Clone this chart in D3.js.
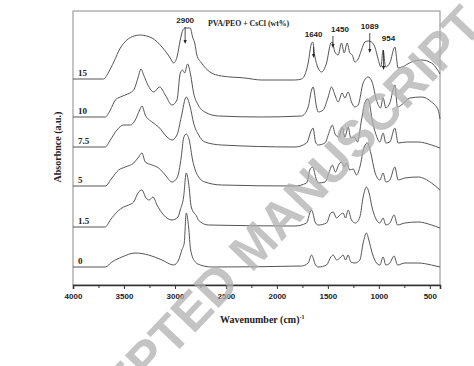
<!DOCTYPE html>
<html>
<head>
<meta charset="utf-8">
<script src="https://cdn.jsdelivr.net/npm/d3@7"></script>
<style>
  body { margin: 0; background: #fff; }
  svg { display: block; }
</style>
</head>
<body>
<div id="chart"></div>
<script>
// series names (CsCl wt%) and vertical stacking offsets (a.u.)
const seriesNames = ["15", "10", "7.5", "5", "1.5", "0"];
const offsets = [206, 168, 138, 99, 58, 18];

// [wavenumber, absorbance above own baseline]
const spec15 = [[4000,0],[3700,0],[3650,7],[3600,17],[3536,31],[3471,39],[3400,43],[3340,44],[3280,43],[3225,41],[3127,32],[3046,21],[3013,16],[2980,22],[2948,39],[2922,49],[2900,51],[2850,51],[2827,42],[2804,35],[2785,24],[2739,16],[2657,7],[2543,3],[2314,1],[2150,-1],[1824,-1],[1758,0],[1693,16],[1665,34],[1648,37],[1630,24],[1600,12],[1562,7],[1513,16],[1471,36],[1458,37],[1431,27],[1399,24],[1366,36],[1340,26],[1311,36],[1284,26],[1261,24],[1235,17],[1203,20],[1170,29],[1137,37],[1105,38],[1072,37],[1039,32],[1007,20],[980,12],[958,29],[934,12],[892,16],[843,32],[811,11],[772,12],[680,17],[581,19],[483,16],[430,10],[400,5]];
const spec10 = [[4000,0],[3683,0],[3634,7],[3585,17],[3536,20],[3487,22],[3405,27],[3363,39],[3333,48],[3307,42],[3265,32],[3209,25],[3150,30],[3095,22],[3029,12],[2980,17],[2948,44],[2925,47],[2905,44],[2876,53],[2846,42],[2817,24],[2772,12],[2706,5],[2575,1],[2150,0],[1758,1],[1693,10],[1660,27],[1645,30],[1611,10],[1595,5],[1546,7],[1497,20],[1464,30],[1431,22],[1399,15],[1360,24],[1333,19],[1301,25],[1268,15],[1235,10],[1203,12],[1154,34],[1105,40],[1066,35],[1023,17],[984,9],[958,19],[931,9],[892,14],[843,32],[817,10],[778,12],[696,19],[581,20],[483,15],[418,7],[400,-2]];
const spec7_5 = [[4000,0],[3683,0],[3634,7],[3569,17],[3503,22],[3438,22],[3389,27],[3346,37],[3324,41],[3291,32],[3225,25],[3160,20],[3078,10],[3029,7],[2980,12],[2938,30],[2889,50],[2850,40],[2817,24],[2768,12],[2706,5],[2543,2],[1824,0],[1709,4],[1660,17],[1645,19],[1621,5],[1595,2],[1529,4],[1480,17],[1457,22],[1425,12],[1392,10],[1360,20],[1333,10],[1301,20],[1275,9],[1242,10],[1209,5],[1170,27],[1137,44],[1112,48],[1092,44],[1066,27],[1033,14],[990,5],[958,14],[931,4],[892,5],[843,19],[811,4],[729,5],[614,5],[483,2],[400,-1]];
const spec5 = [[4000,0],[3683,0],[3618,8],[3552,16],[3487,19],[3405,23],[3356,29],[3324,33],[3291,24],[3225,21],[3160,18],[3095,11],[3029,4],[2980,8],[2938,29],[2915,48],[2889,52],[2860,46],[2827,26],[2768,9],[2706,4],[2543,1],[1824,0],[1709,3],[1677,16],[1650,19],[1611,6],[1595,3],[1529,4],[1480,16],[1457,21],[1425,14],[1395,21],[1366,24],[1340,19],[1317,23],[1284,16],[1252,17],[1219,11],[1186,19],[1144,39],[1111,43],[1079,33],[1039,14],[990,6],[958,13],[931,4],[892,6],[843,19],[811,6],[745,8],[614,9],[483,3],[400,-4]];
const spec1_5 = [[4000,0],[3683,0],[3634,7],[3569,15],[3503,20],[3454,22],[3405,25],[3363,34],[3324,37],[3284,29],[3252,27],[3216,30],[3176,22],[3111,12],[3029,7],[2970,10],[2948,17],[2915,30],[2889,54],[2866,44],[2840,20],[2784,10],[2771,7],[2673,2],[1824,1],[1709,4],[1677,14],[1660,17],[1621,4],[1595,2],[1513,4],[1471,14],[1448,15],[1415,9],[1382,12],[1350,14],[1327,9],[1301,17],[1268,7],[1229,4],[1186,10],[1154,30],[1121,40],[1098,35],[1065,19],[1023,7],[990,4],[958,9],[931,2],[892,4],[850,12],[817,2],[745,4],[614,5],[483,2],[400,-1]];
const spec0 = [[4000,0],[3683,0],[3618,5],[3520,10],[3389,14],[3258,12],[3127,7],[3013,2],[2964,7],[2932,17],[2909,24],[2889,54],[2866,40],[2846,17],[2800,5],[2750,2],[2641,0],[1758,1],[1693,4],[1660,12],[1621,2],[1595,0],[1513,2],[1471,10],[1448,12],[1415,7],[1382,9],[1350,12],[1327,7],[1301,12],[1275,5],[1235,4],[1186,7],[1154,24],[1121,34],[1098,27],[1065,14],[1023,4],[990,2],[958,10],[931,2],[892,4],[850,11],[817,2],[745,4],[614,4],[484,2],[400,0]];
const spectra = [spec15, spec10, spec7_5, spec5, spec1_5, spec0];

// marked bands
const bandLabels = ["2900", "1640", "1450", "1089", "954"];
const bandPos = [2900, 1640, 1450, 1089, 954];

const xTicks = [4000, 3500, 3000, 2500, 2000, 1500, 1000, 500];

const width = 474, height = 366;
const margin = {top: 11, right: 34, bottom: 81, left: 73};

const svg = d3.select("#chart").append("svg")
  .attr("width", width)
  .attr("height", height);

const x = d3.scaleLinear().domain([4000, 400]).range([margin.left, width - margin.right]);
const y = d3.scaleLinear().domain([0, 274]).range([height - margin.bottom, margin.top]);

// frame
svg.append("rect")
  .attr("x", margin.left).attr("y", margin.top)
  .attr("width", width - margin.left - margin.right)
  .attr("height", height - margin.top - margin.bottom)
  .attr("fill", "none").attr("stroke", "#8a8a8a").attr("stroke-width", 1);

// bottom axis
const xAxis = d3.axisBottom(x).tickValues(xTicks).tickSize(4).tickFormat(d3.format("d"));
const gx = svg.append("g")
  .attr("transform", `translate(0,${height - margin.bottom})`)
  .call(xAxis);
gx.select(".domain").attr("stroke", "#333").attr("stroke-width", 1.6);
gx.selectAll(".tick line").attr("stroke", "#333");
gx.selectAll("text")
  .attr("font-family", "Liberation Sans, Arial, sans-serif")
  .attr("font-weight", "bold").attr("font-size", 8).attr("fill", "#222")
  .attr("dy", "0.9em");
svg.append("g")
  .attr("transform", `translate(0,${height - margin.bottom})`)
  .call(d3.axisBottom(x).tickValues(d3.range(3750, 400, -500)).tickSize(3).tickFormat(""))
  .call(g => g.select(".domain").remove())
  .call(g => g.selectAll("line").attr("stroke", "#333"));

// spectra
const line = d3.line()
  .x(d => x(d[0]))
  .y(d => y(d[1]))
  .curve(d3.curveMonotoneX);

spectra.forEach((s, i) => {
  const pts = s.map(p => [p[0], p[1] + offsets[i]]);
  svg.append("path")
    .datum(pts)
    .attr("fill", "none")
    .attr("stroke", "#555")
    .attr("stroke-width", 1)
    .attr("d", line);
  svg.append("text")
    .attr("x", margin.left + 5)
    .attr("y", y(offsets[i]) - 3)
    .attr("font-family", "Liberation Serif, Times New Roman, serif")
    .attr("font-weight", "bold").attr("font-size", 9).attr("fill", "#222")
    .text(seriesNames[i]);
});

// band annotations
const labY = [23, 37, 32, 29, 41];
const arrTop = [27, 47, 36, 33, 50];
const arrBot = [44, 58, 48, 53, 70];
const labDx = [0, 0, 7, 0, 5];
bandPos.forEach((b, i) => {
  const bx = x(b);
  svg.append("text")
    .attr("x", bx + labDx[i]).attr("y", labY[i])
    .attr("text-anchor", "middle")
    .attr("font-family", "Liberation Sans Narrow, Arial Narrow, Liberation Sans, sans-serif")
    .attr("font-weight", "bold").attr("font-size", 8).attr("fill", "#222")
    .text(bandLabels[i]);
  svg.append("line")
    .attr("x1", bx).attr("x2", bx)
    .attr("y1", arrTop[i]).attr("y2", arrBot[i] - 3)
    .attr("stroke", "#222").attr("stroke-width", 0.8);
  svg.append("path")
    .attr("d", `M${bx - 1.6},${arrBot[i] - 4}L${bx + 1.6},${arrBot[i] - 4}L${bx},${arrBot[i]}Z`)
    .attr("fill", "#222");
});

// title
svg.append("text")
  .attr("x", 208).attr("y", 26)
  .attr("font-family", "Liberation Serif, Times New Roman, serif")
  .attr("font-weight", "bold").attr("font-size", 7.8).attr("fill", "#222")
  .text("PVA/PEO + CsCl (wt%)");

// axis titles
const xt = svg.append("text")
  .attr("x", 220).attr("y", 323)
  .attr("font-family", "Liberation Serif, Times New Roman, serif")
  .attr("font-weight", "bold").attr("font-size", 10).attr("fill", "#222");
xt.append("tspan").text("Wavenumber (cm)");
xt.append("tspan").attr("dy", -4).attr("font-size", 6).text("-1");

svg.append("text")
  .attr("transform", "translate(61,147) rotate(-90)")
  .attr("text-anchor", "middle")
  .attr("font-family", "Liberation Serif, Times New Roman, serif")
  .attr("font-weight", "bold").attr("font-size", 10).attr("fill", "#222")
  .text("Absorbnce (a.u.)");

// watermark
svg.append("text")
  .attr("transform", "translate(267,257) rotate(-46.5)")
  .attr("text-anchor", "middle")
  .attr("font-family", "Liberation Sans, Arial, sans-serif")
  .attr("font-weight", "bold").attr("font-size", 51)
  .attr("fill", "#b0b0b0").attr("fill-opacity", 0.75)
  .text("ACCEPTED MANUSCRIPT");
</script>
</body>
</html>
